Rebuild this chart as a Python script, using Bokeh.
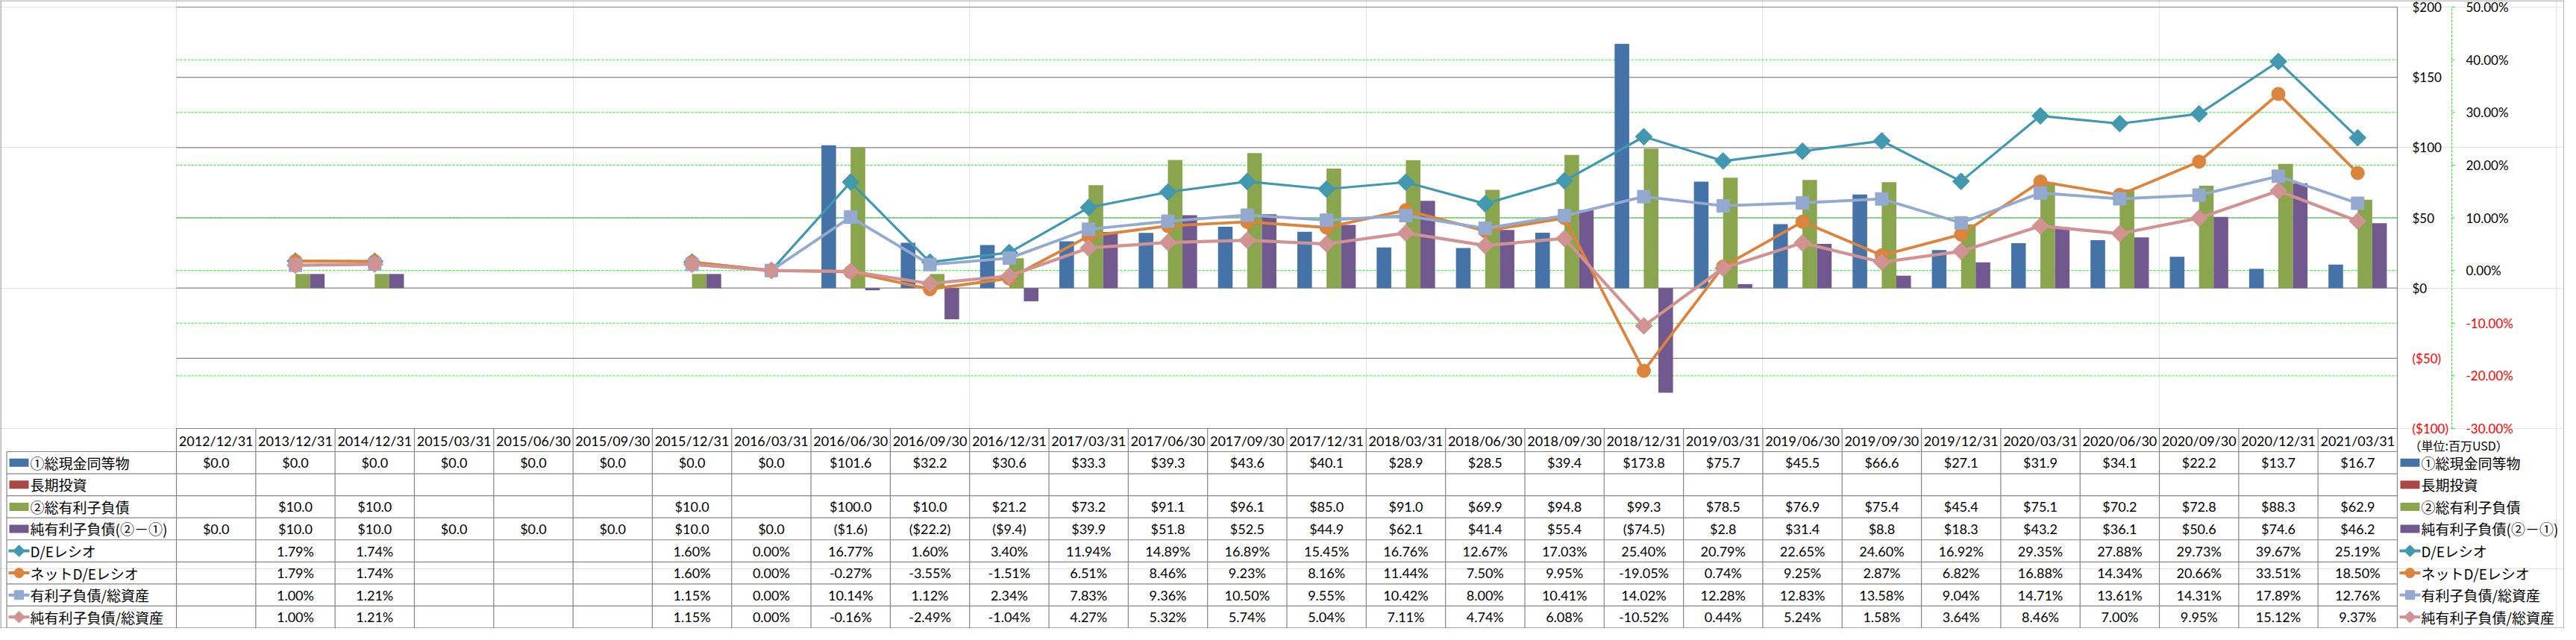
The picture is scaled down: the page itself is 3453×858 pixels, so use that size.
import numpy as np
from bokeh.plotting import figure
from bokeh.models import Range1d, ColumnDataSource
from bokeh.core.properties import value
from bokeh.embed import file_html
from bokeh.resources import INLINE

# ---------------- data ----------------
DATES = ["2012/12/31", "2013/12/31", "2014/12/31", "2015/03/31", "2015/06/30", "2015/09/30",
         "2015/12/31", "2016/03/31", "2016/06/30", "2016/09/30", "2016/12/31", "2017/03/31",
         "2017/06/30", "2017/09/30", "2017/12/31", "2018/03/31", "2018/06/30", "2018/09/30",
         "2018/12/31", "2019/03/31", "2019/06/30", "2019/09/30", "2019/12/31", "2020/03/31",
         "2020/06/30", "2020/09/30", "2020/12/31", "2021/03/31"]
CASH = [0.0, 0.0, 0.0, 0.0, 0.0, 0.0, 0.0, 0.0, 101.6, 32.2, 30.6, 33.3, 39.3, 43.6, 40.1, 28.9,
        28.5, 39.4, 173.8, 75.7, 45.5, 66.6, 27.1, 31.9, 34.1, 22.2, 13.7, 16.7]
LT_INVEST = [None, None, None, None, None, None, None, None, None, None, None, None, None, None,
             None, None, None, None, None, None, None, None, None, None, None, None, None, None]
DEBT = [None, 10.0, 10.0, None, None, None, 10.0, None, 100.0, 10.0, 21.2, 73.2, 91.1, 96.1, 85.0,
        91.0, 69.9, 94.8, 99.3, 78.5, 76.9, 75.4, 45.4, 75.1, 70.2, 72.8, 88.3, 62.9]
NET_DEBT = [0.0, 10.0, 10.0, 0.0, 0.0, 0.0, 10.0, 0.0, -1.6, -22.2, -9.4, 39.9, 51.8, 52.5, 44.9,
            62.1, 41.4, 55.4, -74.5, 2.8, 31.4, 8.8, 18.3, 43.2, 36.1, 50.6, 74.6, 46.2]
DE = [None, 1.79, 1.74, None, None, None, 1.60, 0.00, 16.77, 1.60, 3.40, 11.94, 14.89, 16.89, 15.45,
      16.76, 12.67, 17.03, 25.40, 20.79, 22.65, 24.60, 16.92, 29.35, 27.88, 29.73, 39.67, 25.19]
NET_DE = [None, 1.79, 1.74, None, None, None, 1.60, 0.00, -0.27, -3.55, -1.51, 6.51, 8.46, 9.23, 8.16,
          11.44, 7.50, 9.95, -19.05, 0.74, 9.25, 2.87, 6.82, 16.88, 14.34, 20.66, 33.51, 18.50]
DEBT_ASSETS = [None, 1.00, 1.21, None, None, None, 1.15, 0.00, 10.14, 1.12, 2.34, 7.83, 9.36, 10.50,
               9.55, 10.42, 8.00, 10.41, 14.02, 12.28, 12.83, 13.58, 9.04, 14.71, 13.61, 14.31, 17.89, 12.76]
NET_DEBT_ASSETS = [None, 1.00, 1.21, None, None, None, 1.15, 0.00, -0.16, -2.49, -1.04, 4.27, 5.32,
                   5.74, 5.04, 7.11, 4.74, 6.08, -10.52, 0.44, 5.24, 1.58, 3.64, 8.46, 7.00, 9.95, 15.12, 9.37]

SERIES_NAMES = ["①総現金同等物", "長期投資", "②総有利子負債", "純有利子負債(②－①)",
                "D/Eレシオ", "ネットD/Eレシオ", "有利子負債/総資産", "純有利子負債/総資産"]
USD_TICKS = [-100, -50, 0, 50, 100, 150, 200]
USD_TICK_LABELS = ["($100)", "($50)", "$0", "$50", "$100", "$150", "$200"]
PCT_TICKS = [-30, -20, -10, 0, 10, 20, 30, 40, 50]
PCT_TICK_LABELS = ["-30.00%", "-20.00%", "-10.00%", "0.00%", "10.00%", "20.00%", "30.00%",
                   "40.00%", "50.00%"]
UNIT_LABEL = "（単位:百万USD）"

# ---------------- styling / layout ----------------
C_CASH, C_LT, C_DEBT, C_NET = "#4572A7", "#AA4643", "#89A54E", "#71588F"
C_DE, C_NDE, C_DA, C_NDA = "#4198AF", "#DB843D", "#93A9CF", "#D19392"
GRAY = "#868686"
GREEN = "#00FF00"
NUM_FONT = value("Lato")
JP_FONT = value("Noto Sans CJK JP")

W, H = 3437, 842
FL, FR, FT, FB = 236, 3213, 9, 574          # plot-area edges in canvas px
NCAT = len(DATES)
CW = (FR - FL) / NCAT
PPU = (FB - FT) / 300.0                      # px per $
PPP = (FB - FT) / 80.0                       # px per %
BW = 0.184


def arr(v):
    return np.array([np.nan if x is None else x for x in v], dtype=float)


IDX = np.arange(NCAT) + 0.5
src = ColumnDataSource(dict(x=IDX, cash=arr(CASH), lt=arr(LT_INVEST), debt=arr(DEBT),
                            net=arr(NET_DEBT), de=arr(DE), nde=arr(NET_DE), da=arr(DEBT_ASSETS),
                            nda=arr(NET_DEBT_ASSETS)))

p = figure(width=W, height=H,
           x_range=Range1d(-FL / CW, NCAT + (W - FR) / CW),
           y_range=Range1d(-100 - (H - FB) / PPU, 200 + FT / PPU),
           output_backend="svg", toolbar_location=None, x_axis_location=None,
           y_axis_location=None, min_border=0, outline_line_color=None,
           background_fill_color="white", border_fill_color="white")
p.extra_y_ranges = {"pct": Range1d(-30 - (H - FB) / PPP, 50 + FT / PPP), "px": Range1d(H, 0)}
p.extra_x_ranges = {"px": Range1d(0, W)}

# ---- gridlines ($ solid gray, % dashed green) ----
p.segment(x0=[0] * len(USD_TICKS), x1=[NCAT] * len(USD_TICKS), y0=USD_TICKS, y1=USD_TICKS,
          line_color=GRAY, line_width=1.2)
gp = [t for t in PCT_TICKS if -30 < t < 50]
p.segment(x0=[0] * len(gp), x1=[NCAT] * len(gp), y0=gp, y1=gp, y_range_name="pct",
          line_color=GREEN, line_width=1, line_dash="3 2")
p.segment(x0=[NCAT], x1=[NCAT], y0=[-100], y1=[200], line_color=GRAY, line_width=1.2)

# ---- bars ----
for key, off, col in [("cash", -1.5 * BW, C_CASH), ("lt", -0.5 * BW, C_LT),
                      ("debt", 0.5 * BW, C_DEBT), ("net", 1.5 * BW, C_NET)]:
    p.vbar(x=IDX + off, top=src.data[key], bottom=0, width=BW, fill_color=col, line_color=None)

# ---- lines ----
ANG = np.pi / 4
for key, col, lw, mk, ms, ang in [("de", C_DE, 3.2, "square", 16, ANG),
                                  ("nde", C_NDE, 3.8, "circle", 18, 0),
                                  ("da", C_DA, 3.8, "square", 17, 0),
                                  ("nda", C_NDA, 4.2, "square", 16, ANG)]:
    p.line("x", key, source=src, y_range_name="pct", line_color=col, line_width=lw)
    p.scatter("x", key, source=src, y_range_name="pct", marker=mk, size=ms, angle=ang,
              fill_color=col, line_color=col)

# ---- right-hand value axes ----
usd_cols = ["#000000" if t >= 0 else "#FF0000" for t in USD_TICKS]
p.text(x=[NCAT + 20 / CW] * len(USD_TICKS), y=USD_TICKS, text=USD_TICK_LABELS,
       text_color=usd_cols, text_align="left", text_baseline="middle",
       text_font=NUM_FONT, text_font_size="17px")
XA = NCAT + 73 / CW
p.segment(x0=[XA], x1=[XA], y0=[-30], y1=[50], y_range_name="pct", line_color=GREEN,
          line_width=1, line_dash="3 2")
p.segment(x0=[XA] * len(PCT_TICKS), x1=[XA + 4 / CW] * len(PCT_TICKS), y0=PCT_TICKS,
          y1=PCT_TICKS, y_range_name="pct", line_color=GREEN, line_width=1)
pct_cols = ["#000000" if t >= 0 else "#FF0000" for t in PCT_TICKS]
p.text(x=[NCAT + 92 / CW] * len(PCT_TICKS), y=PCT_TICKS, text=PCT_TICK_LABELS, y_range_name="pct",
       text_color=pct_cols, text_align="left", text_baseline="middle",
       text_font=NUM_FONT, text_font_size="17px")

# ---------------- data table (canvas px coordinates) ----------------
HDR_T, HDR_B = FB, FB + 31
ROW_H = (H - 0.5 - HDR_B) / 8
LAB_L = 8.5
col_edges = [FL + i * CW for i in range(NCAT + 1)]
col_centers = [FL + (i + 0.5) * CW for i in range(NCAT)]
row_centers = [HDR_B + (r + 0.5) * ROW_H for r in range(8)]

x0, y0, x1, y1 = [], [], [], []
for k in range(9):
    yy = HDR_B + k * ROW_H
    x0.append(LAB_L); y0.append(yy); x1.append(FR); y1.append(yy)
x0.append(LAB_L); y0.append(HDR_B); x1.append(LAB_L); y1.append(H)
for xe in col_edges:
    x0.append(xe); y0.append(HDR_T); x1.append(xe); y1.append(H)
# outer frame of the whole picture
x0 += [0.5, W - 0.5, 0, 0]; y0 += [0, 0, H - 0.5, 0.5]
x1 += [0.5, W - 0.5, W, W]; y1 += [H, H, H - 0.5, 0.5]
p.segment(x0=x0, y0=y0, x1=x1, y1=y1, x_range_name="px", y_range_name="px",
          line_color=GRAY, line_width=1.2)


def fmt_usd(v):
    if v is None:
        return ""
    return "$%.1f" % v if v >= 0 else "($%.1f)" % (-v)


def fmt_pct(v):
    return "" if v is None else "%.2f%%" % v


rows = [(CASH, fmt_usd), (LT_INVEST, fmt_usd), (DEBT, fmt_usd), (NET_DEBT, fmt_usd),
        (DE, fmt_pct), (NET_DE, fmt_pct), (DEBT_ASSETS, fmt_pct), (NET_DEBT_ASSETS, fmt_pct)]
tx, ty, tt = [], [], []
for r, (vals, f) in enumerate(rows):
    for c, v in enumerate(vals):
        s = f(v)
        if s:
            tx.append(col_centers[c]); ty.append(row_centers[r]); tt.append(s)
p.text(x=tx, y=ty, text=tt, x_range_name="px", y_range_name="px", text_align="center",
       text_baseline="middle", text_font=NUM_FONT, text_font_size="18px", text_color="#000000")
p.text(x=col_centers, y=[(HDR_T + HDR_B) / 2 + 1] * NCAT, text=DATES, x_range_name="px",
       y_range_name="px", text_align="center", text_baseline="middle", text_font=NUM_FONT,
       text_font_size="18px", text_color="#000000")

# legend keys in the label column and at the right
BAR_COLS = [C_CASH, C_LT, C_DEBT, C_NET]
LINE_KEYS = [(C_DE, "square", 11, ANG), (C_NDE, "circle", 13, 0), (C_DA, "square", 12, 0),
             (C_NDA, "square", 11, ANG)]
for xc, xt in [(25, 40), (FR + 17, FR + 32)]:
    p.rect(x=[xc] * 4, y=row_centers[:4], width=26, height=11, fill_color=BAR_COLS,
           line_color=None, x_range_name="px", y_range_name="px")
    for i, (col, mk, ms, ang) in enumerate(LINE_KEYS):
        yy = row_centers[4 + i]
        p.segment(x0=[xc - 14], y0=[yy], x1=[xc + 14], y1=[yy], line_color=col, line_width=4,
                  x_range_name="px", y_range_name="px")
        p.scatter(x=[xc], y=[yy], marker=mk, size=ms, angle=ang, fill_color=col, line_color=col,
                  x_range_name="px", y_range_name="px")
    p.text(x=[xt] * 8, y=row_centers, text=SERIES_NAMES, text_align="left",
           text_baseline="middle", text_font=JP_FONT, text_font_size="19px",
           text_color="#000000", x_range_name="px", y_range_name="px")

p.text(x=[FR + 16], y=[HDR_T + 22], text=[UNIT_LABEL], text_align="left",
       text_baseline="middle", text_font=JP_FONT, text_font_size="16px",
       text_color="#000000", x_range_name="px", y_range_name="px")

open("out.html", "w").write(file_html(p, INLINE))
